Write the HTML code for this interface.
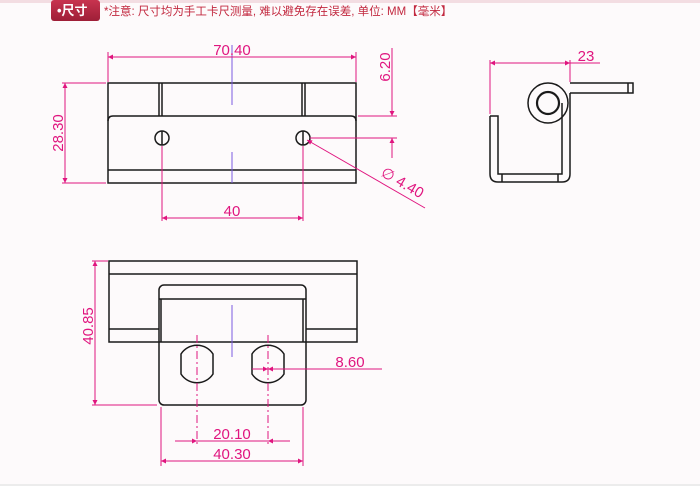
<!DOCTYPE html>
<html><head><meta charset="utf-8"><style>
html,body{margin:0;padding:0;background:#fdfafb;}
svg{display:block}
</style></head><body>
<svg width="700" height="486" viewBox="0 0 700 486" xmlns="http://www.w3.org/2000/svg" font-family="Liberation Sans, sans-serif">
<defs>
<linearGradient id="bg" x1="0" y1="0" x2="0" y2="1"><stop offset="0" stop-color="#c8344f"/><stop offset="1" stop-color="#9e1f37"/></linearGradient>
<marker id="a" viewBox="0 0 10 10" refX="10" refY="5" markerWidth="9" markerHeight="5" orient="auto-start-reverse" markerUnits="userSpaceOnUse"><path d="M0,0L10,5L0,10z" fill="#e0157f"/></marker>
</defs>
<rect x="0" y="0" width="700" height="3" fill="#f3dde2"/>
<rect x="51" y="0" width="49" height="21" rx="3" fill="url(#bg)"/>
<text x="57" y="15" font-size="13" fill="#fff" font-weight="bold" font-family="Liberation Sans, Noto Sans CJK SC, sans-serif">•尺寸</text>
<text x="104" y="15" font-size="11.5" fill="#c2283f" font-family="Liberation Sans, Noto Sans CJK SC, sans-serif">*注意: 尺寸均为手工卡尺测量, 难以避免存在误差, 单位: MM【毫米】</text>
<rect x="0" y="484" width="700" height="2" fill="#ececec"/>

<g fill="none" stroke="#1a1a1a" stroke-width="1.5">
<!-- top view -->
<rect x="108" y="83" width="248" height="100"/>
<line x1="159" y1="83" x2="159" y2="116"/><line x1="162" y1="83" x2="162" y2="116"/>
<line x1="302" y1="83" x2="302" y2="116"/><line x1="305" y1="83" x2="305" y2="116"/>
<path d="M108,121 Q108,116 113,116 L351,116 Q356,116 356,121"/>
<line x1="108" y1="170" x2="356" y2="170"/>
<circle cx="162" cy="138" r="7"/><circle cx="303" cy="138" r="7"/>
<line x1="162" y1="131" x2="162" y2="145"/><line x1="303" y1="131" x2="303" y2="145"/>
<!-- side view -->
<circle cx="548" cy="103" r="20"/>
<circle cx="548" cy="103" r="11" stroke-width="2.2"/>
<path d="M570,83 L633,83 L633,93 L570,93"/><line x1="628" y1="83" x2="628" y2="93"/>
<path d="M490,116 L490,174 Q490,182 498,182 L562,182 Q570,182 570,174 L570,93"/>
<path d="M490,116 L498,116 L498,174 L562,174 L562,103"/>
<line x1="502" y1="174" x2="502" y2="182"/><line x1="558" y1="174" x2="558" y2="182"/>
<!-- bottom view -->
<rect x="109" y="261" width="248" height="81"/>
<line x1="109" y1="274" x2="357" y2="274"/>
<line x1="109" y1="329" x2="159" y2="329"/><line x1="306" y1="329" x2="357" y2="329"/>
<rect x="159" y="285" width="147" height="120" rx="5" fill="#fdfafb"/>
<line x1="159" y1="299" x2="306" y2="299"/>
<line x1="161" y1="299" x2="161" y2="342"/><line x1="303" y1="299" x2="303" y2="342"/>
<line x1="159" y1="342" x2="306" y2="342"/>
<path d="M181,354 A19,19 0 0 1 213,354 L213,374 A19,19 0 0 1 181,374 Z"/>
<path d="M252,354 A19,19 0 0 1 284,354 L284,374 A19,19 0 0 1 252,374 Z"/>
</g>

<g stroke="#7a5be0" stroke-width="1">
<line x1="232" y1="45" x2="232" y2="105"/><line x1="232" y1="152" x2="232" y2="183"/>
<line x1="232" y1="305" x2="232" y2="357"/>
</g>

<g stroke="#e0157f" stroke-width="1" fill="none">
<line x1="108" y1="52" x2="108" y2="82"/><line x1="356" y1="52" x2="356" y2="82"/>
<line x1="108" y1="57" x2="356" y2="57" marker-start="url(#a)" marker-end="url(#a)"/>
<line x1="62" y1="83" x2="106" y2="83"/><line x1="62" y1="183" x2="106" y2="183"/>
<line x1="65" y1="83" x2="65" y2="183" marker-start="url(#a)" marker-end="url(#a)"/>
<line x1="358" y1="116" x2="397" y2="116"/><line x1="310" y1="138" x2="397" y2="138"/>
<line x1="392" y1="48" x2="392" y2="116" marker-end="url(#a)"/>
<line x1="392" y1="158" x2="392" y2="138" marker-end="url(#a)"/>
<line x1="162" y1="146" x2="162" y2="221"/><line x1="303" y1="146" x2="303" y2="221"/>
<line x1="162" y1="218" x2="303" y2="218" marker-start="url(#a)" marker-end="url(#a)"/>
<line x1="425" y1="208" x2="307" y2="140" marker-end="url(#a)"/>
<line x1="490" y1="60" x2="490" y2="114"/><line x1="570" y1="60" x2="570" y2="82"/>
<line x1="490" y1="63" x2="570" y2="63" marker-start="url(#a)" marker-end="url(#a)"/>
<line x1="570" y1="63" x2="600" y2="63"/>
<line x1="92" y1="261" x2="108" y2="261"/><line x1="92" y1="405" x2="157" y2="405"/>
<line x1="95" y1="261" x2="95" y2="405" marker-start="url(#a)" marker-end="url(#a)"/>
<line x1="252" y1="369" x2="268" y2="369" marker-end="url(#a)"/>
<line x1="284" y1="369" x2="268" y2="369" marker-end="url(#a)"/>
<line x1="268" y1="369" x2="382" y2="369"/>
<line x1="197" y1="335" x2="197" y2="445" stroke-dasharray="8,3,2,3"/>
<line x1="268" y1="335" x2="268" y2="445" stroke-dasharray="8,3,2,3"/>
<line x1="175" y1="441" x2="197" y2="441" marker-end="url(#a)"/>
<line x1="290" y1="441" x2="268" y2="441" marker-end="url(#a)"/>
<line x1="197" y1="441" x2="268" y2="441"/>
<line x1="161" y1="407" x2="161" y2="466"/><line x1="303" y1="407" x2="303" y2="466"/>
<line x1="161" y1="461" x2="303" y2="461" marker-start="url(#a)" marker-end="url(#a)"/>
</g>

<g fill="#e0157f" font-size="15">
<text x="232" y="55" text-anchor="middle">70.40</text>
<text transform="translate(63,133) rotate(-90)" text-anchor="middle">28.30</text>
<text transform="translate(390,67) rotate(-90)" text-anchor="middle">6.20</text>
<text x="232" y="216" text-anchor="middle">40</text>
<text transform="translate(400,187) rotate(30)" text-anchor="middle">∅ 4.40</text>
<text x="586" y="61" text-anchor="middle">23</text>
<text transform="translate(93,326) rotate(-90)" text-anchor="middle">40.85</text>
<text x="350" y="367" text-anchor="middle">8.60</text>
<text x="232" y="439" text-anchor="middle">20.10</text>
<text x="232" y="459" text-anchor="middle">40.30</text>
</g>
</svg>
</body></html>
